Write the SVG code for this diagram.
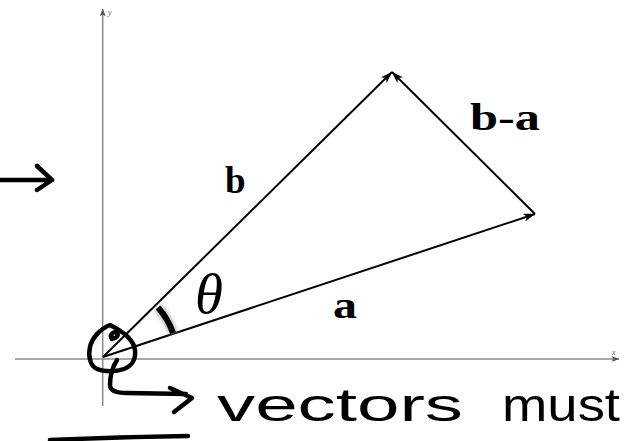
<svg xmlns="http://www.w3.org/2000/svg" width="624" height="441" viewBox="0 0 624 441">
<defs>
<marker id="vec" viewBox="0 0 12 8" refX="11.5" refY="4" markerWidth="12" markerHeight="8" markerUnits="userSpaceOnUse" orient="auto"><path d="M0,0 L12,4 L0,8 L3,4 Z" fill="#000"/></marker>
<marker id="ax" viewBox="0 0 8 6" refX="7.5" refY="3" markerWidth="8" markerHeight="6" markerUnits="userSpaceOnUse" orient="auto"><path d="M0,0 L8,3 L0,6 L2,3 Z" fill="#555"/></marker>
<filter id="soft" x="-50%" y="-50%" width="200%" height="200%"><feGaussianBlur stdDeviation="2.5"/></filter>
</defs>
<style>
.axis{stroke:#8a8a8a;stroke-width:1.5;fill:none}
.vec{stroke:#000;stroke-width:2;fill:none}
.lbl{font-family:"Liberation Serif",serif;font-weight:bold;font-size:37px;fill:#000}
.axl{font-family:"Liberation Serif",serif;font-style:italic;font-size:8px;fill:#666}
.ink{stroke:#000;stroke-width:4.5;fill:none;stroke-linecap:round;stroke-linejoin:round}
.hand{font-family:"Liberation Sans",sans-serif;font-size:47px;fill:#000}
</style>
<rect width="624" height="441" fill="#fff"/>

<g id="axes">
<line class="axis" x1="15" y1="359" x2="619" y2="359" marker-end="url(#ax)"/>
<line class="axis" x1="102.7" y1="406" x2="102.7" y2="9" marker-end="url(#ax)"/>
<text class="axl" x="108" y="15">y</text>
<text class="axl" x="612" y="355">x</text>
</g>

<g id="connectors">
<line class="vec" x1="103" y1="357" x2="535" y2="214" marker-end="url(#vec)"/>
<line class="vec" x1="103" y1="357" x2="392" y2="72" marker-end="url(#vec)"/>
<line class="vec" x1="535" y1="214" x2="392" y2="72" marker-end="url(#vec)"/>
</g>

<g id="angle">
<path d="M158,307.5 A74,74 0 0,1 173,333" stroke="#999" stroke-width="7" fill="none" filter="url(#soft)"/>
<path d="M158,307.5 A74,74 0 0,1 173,333" stroke="#000" stroke-width="6" fill="none"/>
<text x="195" y="313" font-family="Liberation Serif, serif" font-style="italic" font-size="57" fill="#000">θ</text>
</g>

<g id="labels">
<text class="lbl" x="225" y="193">b</text>
<text class="lbl" x="470" y="130" textLength="70" lengthAdjust="spacingAndGlyphs">b-a</text>
<text class="lbl" x="333" y="318" textLength="24" lengthAdjust="spacingAndGlyphs">a</text>
</g>

<g id="annotations">
<path class="ink" d="M0,180 L52,180 M37,166 L52,180 L37,190"/>
<path class="ink" d="M110,325 C100,329 92,338 90,347 C88,356 90,366 97,369 C104,372 116,372 124,369 C132,366 136,359 135,350 C134,341 126,333 110,325 Z"/>
<path class="ink" stroke-width="3.5" d="M112,339 C109,334 114,331 117,333 C119,335 116,339 113,338"/>
<path class="ink" d="M117,360 C112,368 110,378 110,385 C110,391 116,393 127,393 L186,394 M170,388 L192,398 L174,412"/>
<path class="ink" d="M50,440 Q120,437 188,436"/>
<text class="hand" x="217" y="421" textLength="246" lengthAdjust="spacingAndGlyphs">vectors</text>
<text class="hand" x="502" y="421" textLength="118" lengthAdjust="spacingAndGlyphs">must</text>
</g>
</svg>
